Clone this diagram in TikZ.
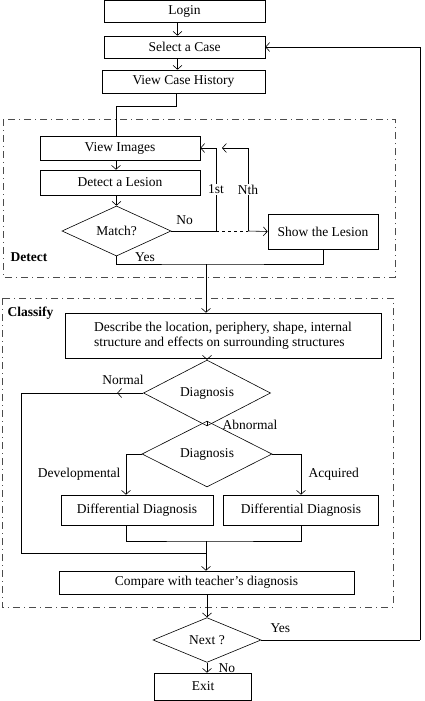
\documentclass[tikz,border=0pt]{standalone}
\usepackage{fontspec}
\setmainfont{Liberation Serif}
\usetikzlibrary{shapes.geometric,arrows.meta}
\begin{document}
\begin{tikzpicture}[x=1pt, y=-1pt, every node/.style={font=\fontsize{13.5}{15}\selectfont}]
      \tikzset{stepbox/.style={draw, rectangle, inner sep=0pt, line width=.6pt},
               decide/.style={draw, diamond, inner sep=0pt, line width=.6pt},
               frame/.style={draw=black!70, line width=.6pt, dash pattern=on 7pt off 4pt on 1pt off 4pt},
               conn/.style={line width=.6pt},
               arr/.style={->, > = {Straight Barb[length=4pt,width=9pt]}, line width=.6pt}}
      \useasboundingbox (0,0) rectangle (424,701);
%% Frames
      	\draw[frame] (3,119) rectangle (395,277);
      	\draw[frame] (2,298) rectangle (393,607);
      	\node[font=\fontsize{13.5}{15}\selectfont\bfseries, anchor=west] (detect) at (7,257) {Detect};
      	\node[font=\fontsize{13.5}{15}\selectfont\bfseries, anchor=west] (classify) at (4,313) {Classify};
%% Boxes
      	\node[stepbox, minimum width=161, minimum height=22] (login) at (184.5,11) {Login};
      	\node[stepbox, minimum width=161, minimum height=22] (select) at (184.5,47) {Select a Case};
      	\node[stepbox, minimum width=163, minimum height=23] (history) at (183.5,81.5) {View Case History};
      	\node[stepbox, minimum width=160, minimum height=24] (images) at (120,148) {View Images};
      	\node[stepbox, minimum width=160, minimum height=25] (lesion) at (120,182.5) {Detect a Lesion};
      	\node[decide, minimum width=109, minimum height=38] (match) at (116.5,231) {Match?};
      	\node[stepbox, minimum width=110, minimum height=35] (show) at (323,231.5) {Show the Lesion};
      	\node[stepbox, minimum width=316, minimum height=45, align=left] (describe) at (223,335.5)
      	      {Describe the location, periphery, shape, internal\\structure and effects on surrounding structures};
      	\node[decide, minimum width=127, minimum height=40] (diag1) at (207,393) {Diagnosis};
      	\node[decide, minimum width=130, minimum height=40] (diag2) at (207,454) {Diagnosis};
      	\node[stepbox, minimum width=152, minimum height=30] (dd1) at (137,510) {Differential Diagnosis};
      	\node[stepbox, minimum width=155, minimum height=30] (dd2) at (301,510) {Differential Diagnosis};
      	\node[stepbox, minimum width=295, minimum height=23] (compare) at (206.5,582.5) {Compare with teacher's diagnosis};
      	\node[decide, minimum width=108, minimum height=38] (next) at (207,640) {Next ?};
      	\node[stepbox, minimum width=97, minimum height=27] (exit) at (203,686.5) {Exit};
%% Joints
      	\coordinate (first) at (216,231);
      	\coordinate (nth) at (248,231);
      	\coordinate (firsttop) at (216,148);
      	\coordinate (nthtop) at (248,148);
      	\coordinate (nthend) at (222,148);
      	\coordinate (join1) at (206,264);
      	\coordinate (join2) at (206,541);
      	\coordinate (join3) at (206,553);
      	\coordinate (back) at (420,640);
%% Connectors
		\draw[arr] ([xshift=-7pt]login.south) -- ([xshift=-7pt]select.north);
		\draw[arr] ([xshift=-7pt]select.south) -- ([xshift=-6pt]history.north);
		\draw[conn] ([xshift=-7.5pt]history.south) -- ++(0,12.5) -| ([xshift=-4pt]images.north);
		\draw[arr] ([xshift=-4pt]images.south) -- ([xshift=-4pt]lesion.north);
		\draw[arr] (lesion.south -| match.north) -- (match.north);
		\draw[conn] (match.east) -- (first) node[pos=.3, above=3pt] {No};
		\draw[conn, dashed] (first) -- (nth);
		\draw[arr] (nth) -- (show.west);
		\draw[conn] (first) -- (firsttop) node[midway, fill=white, inner sep=1pt] {1st};
		\draw[arr] (firsttop) -- (images.east);
		\draw[conn] (nth) -- (nthtop) node[midway, fill=white, inner sep=1pt] {Nth};
		\draw[arr] (nthtop) -- (nthend);
		\draw[conn] (match.south) |- (join1) -| (show.south);
		\node (yes1) at (145,257) {Yes};
		\draw[arr] (join1) -- (describe.north -| join1);
		\draw[arr] (describe.south -| diag1.north) -- (diag1.north);
		\draw[arr] (diag1.west) -- ++(-26,0);
		\draw[conn] (diag1.west) -- ++(-122,0) |- (join3);
		\node (normal) at (123,380) {Normal};
		\draw[conn] (diag1.south) -- (diag2.north) node[pos=.3, right=12pt] {Abnormal};
		\draw[arr] (diag2.west) -| ([xshift=-11pt]dd1.north) node[pos=.75, left=2pt] {Developmental};
		\draw[arr] (diag2.east) -| (dd2.north) node[pos=.75, right=4pt] {Acquired};
		\draw[conn] ([xshift=-11pt]dd1.south) |- (join2) -| (dd2.south);
		\draw[arr] (join2) -- (compare.north -| join2);
		\draw[arr] (compare.south -| next.north) -- (next.north);
		\draw[conn] (next.east) -- (back) node[pos=.12, above=4pt] {Yes};
		\draw[arr] (back) |- (select.east);
		\draw[arr] (next.south) -- (next.south |- exit.north) node[midway, right=8pt] {No};
	\end{tikzpicture}
\end{document}
